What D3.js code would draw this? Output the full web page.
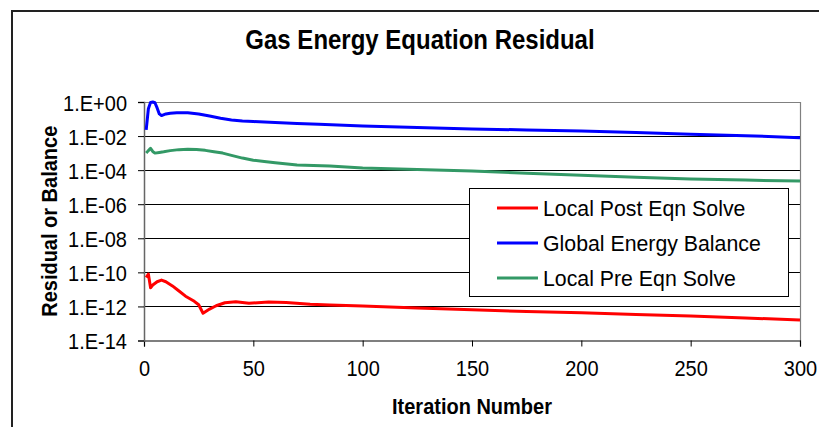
<!DOCTYPE html>
<html>
<head>
<meta charset="utf-8">
<script src="https://cdn.jsdelivr.net/npm/d3@7"></script>
<style>
  html, body { margin: 0; padding: 0; background: #fff; }
  svg { display: block; font-family: "Liberation Sans", Arial, sans-serif; }
</style>
</head>
<body>
<svg id="chart" width="819" height="427"></svg>
<script>
// Iteration numbers and residual values for each series
const postIter = [1, 2, 3, 4, 6, 8, 10, 13, 16, 19, 23, 25, 27, 30, 33, 37, 42, 48, 57, 65, 76, 85, 100, 125, 150, 175, 200, 225, 250, 275, 300];
const postVals = [5e-11, 8e-11, 1.25e-11, 1.8e-11, 2.8e-11, 3.5e-11, 2.8e-11, 1.6e-11, 8e-12, 4e-12, 2e-12, 1.25e-12, 4e-13, 7e-13, 1.1e-12, 1.65e-12, 1.9e-12, 1.55e-12, 1.8e-12, 1.7e-12, 1.35e-12, 1.23e-12, 1.07e-12, 8e-13, 6.3e-13, 5e-13, 4.2e-13, 3.4e-13, 2.75e-13, 2.1e-13, 1.6e-13];

const globalIter = [1, 2, 3, 4, 5, 6, 7, 8, 10, 12, 15, 20, 25, 30, 35, 40, 45, 50, 60, 70, 80, 100, 125, 150, 175, 200, 225, 250, 275, 300];
const globalVals = [0.023, 0.4, 0.95, 1.0, 0.9, 0.45, 0.2, 0.16, 0.2, 0.22, 0.235, 0.235, 0.2, 0.15, 0.11, 0.089, 0.076, 0.071, 0.063, 0.055, 0.049, 0.039, 0.032, 0.026, 0.023, 0.02, 0.016, 0.013, 0.0105, 0.0081];

const preIter = [1, 2, 3, 4, 5, 7, 9, 12, 16, 20, 24, 28, 32, 36, 40, 45, 50, 55, 60, 70, 85, 100, 125, 150, 175, 200, 225, 250, 275, 300];
const preVals = [1.0e-3, 1.4e-3, 1.9e-3, 1.25e-3, 1.0e-3, 1.1e-3, 1.2e-3, 1.4e-3, 1.6e-3, 1.7e-3, 1.65e-3, 1.45e-3, 1.2e-3, 1.0e-3, 7.4e-4, 5.1e-4, 3.8e-4, 3.2e-4, 2.7e-4, 2.0e-4, 1.75e-4, 1.35e-4, 1.1e-4, 8.9e-5, 6.6e-5, 5.0e-5, 3.8e-5, 3.0e-5, 2.6e-5, 2.3e-5];

const seriesNames = ["Local Post Eqn Solve", "Global Energy Balance", "Local Pre Eqn Solve"];
const seriesColors = ["#ff0000", "#0000ff", "#339966"];

const xTicks = [0, 50, 100, 150, 200, 250, 300];
const yTicks = [1e0, 1e-2, 1e-4, 1e-6, 1e-8, 1e-10, 1e-12, 1e-14];

const titleText = "Gas Energy Equation Residual";
const xTitle = "Iteration Number";
const yTitle = "Residual or Balance";

// Glyphs are drawn slightly taller than the plain font proportions
const TALL = 1.12;

const svg = d3.select("#chart");

// Outer chart frame
svg.append("rect")
  .attr("x", 12).attr("y", 11)
  .attr("width", 840).attr("height", 450)
  .attr("fill", "#fff")
  .attr("stroke", "#222").attr("stroke-width", 2);

const plot = { left: 144, right: 800, top: 102, bottom: 340.5 };

const x = d3.scaleLinear().domain([0, 300]).range([plot.left, plot.right]);
const y = d3.scaleLog().domain([1e-14, 1]).range([plot.bottom, plot.top]);

// Horizontal gridlines
svg.append("g").selectAll("line")
  .data(yTicks.slice(1, -1))
  .join("line")
  .attr("x1", plot.left).attr("x2", plot.right)
  .attr("y1", d => Math.round(y(d)) + 0.5).attr("y2", d => Math.round(y(d)) + 0.5)
  .attr("stroke", "#000").attr("stroke-width", 1);

// Plot frame (top and right)
svg.append("path")
  .attr("d", `M${plot.left},${plot.top + 0.5}H${plot.right + 0.5}V${plot.bottom}`)
  .attr("fill", "none").attr("stroke", "#808080").attr("stroke-width", 1.2);

// Axes
const fmtY = d => {
  const e = Math.round(Math.log10(d));
  const s = Math.abs(e).toString().padStart(2, "0");
  return "1.E" + (e < 0 ? "-" : "+") + s;
};

const xAxis = svg.append("g")
  .attr("transform", `translate(0,${plot.bottom})`)
  .call(d3.axisBottom(x).tickValues(xTicks).tickSize(6).tickPadding(13).tickFormat(d3.format("d")));
xAxis.select(".domain").attr("stroke", "#000").attr("stroke-width", 1.2);
xAxis.selectAll(".tick line").attr("stroke", "#000");
xAxis.selectAll("text")
  .attr("font-size", 20).attr("fill", "#000")
  .attr("font-family", "Liberation Sans, Arial, sans-serif")
  .attr("y", 0).attr("dy", null)
  .attr("transform", `translate(0,${19 + 0.716 * 20 * TALL}) scale(1,${TALL})`);

const yAxis = svg.append("g")
  .attr("transform", `translate(${plot.left},0)`)
  .call(d3.axisLeft(y).tickValues(yTicks).tickSize(6).tickPadding(11).tickFormat(fmtY));
yAxis.select(".domain").attr("stroke", "#666").attr("stroke-width", 1.5);
yAxis.selectAll(".tick line").attr("stroke", "#000");
yAxis.selectAll("text")
  .attr("font-size", 20).attr("fill", "#000")
  .attr("font-family", "Liberation Sans, Arial, sans-serif")
  .attr("x", 0).attr("dy", null)
  .attr("transform", `translate(-17,${0.358 * 20 * TALL}) scale(1,${TALL})`);

// Series lines
const seriesData = [
  postIter.map((it, i) => [it, postVals[i]]),
  globalIter.map((it, i) => [it, globalVals[i]]),
  preIter.map((it, i) => [it, preVals[i]])
];
const line = d3.line().x(d => x(d[0])).y(d => y(d[1]));

svg.append("g").selectAll("path")
  .data(seriesData)
  .join("path")
  .attr("d", line)
  .attr("fill", "none")
  .attr("stroke", (d, i) => seriesColors[i])
  .attr("stroke-width", 3)
  .attr("stroke-linejoin", "round");

// Legend
const legend = svg.append("g");
legend.append("rect")
  .attr("x", 469.5).attr("y", 188.5)
  .attr("width", 319).attr("height", 108)
  .attr("fill", "#fff").attr("stroke", "#000").attr("stroke-width", 1);
const rows = [208, 243, 278];
seriesNames.forEach((name, i) => {
  legend.append("line")
    .attr("x1", 497).attr("x2", 538)
    .attr("y1", rows[i]).attr("y2", rows[i])
    .attr("stroke", seriesColors[i]).attr("stroke-width", 3);
  legend.append("text")
    .attr("transform", `translate(543,${rows[i] + 0.358 * 21.3 * 1.06}) scale(1,1.06)`)
    .attr("font-size", 21.3)
    .attr("fill", "#000")
    .text(name);
});

// Titles
svg.append("text")
  .attr("transform", `translate(420,49) scale(1,${TALL})`)
  .attr("text-anchor", "middle")
  .attr("font-size", 24).attr("font-weight", "bold")
  .text(titleText);

svg.append("text")
  .attr("transform", `translate(472,414) scale(1,${TALL})`)
  .attr("text-anchor", "middle")
  .attr("font-size", 20).attr("font-weight", "bold")
  .text(xTitle);

svg.append("text")
  .attr("transform", `translate(57,${(plot.top + plot.bottom) / 2}) rotate(-90) scale(1,${TALL})`)
  .attr("text-anchor", "middle")
  .attr("font-size", 20).attr("font-weight", "bold")
  .text(yTitle);
</script>
</body>
</html>
